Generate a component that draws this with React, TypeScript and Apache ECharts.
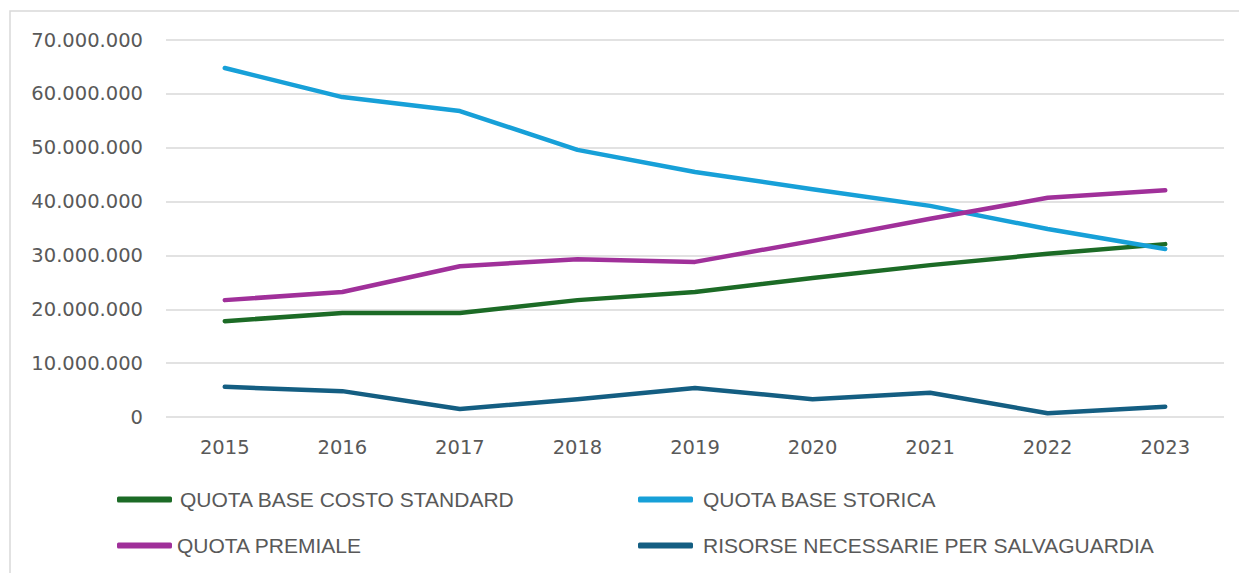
import React, { useEffect, useRef } from "react";
import * as echarts from "echarts";

const years = ["2015", "2016", "2017", "2018", "2019", "2020", "2021", "2022", "2023"];
const quotaBaseCostoStandard = [17.8, 19.3, 19.3, 21.7, 23.2, 25.8, 28.2, 30.3, 32.1].map((v) => v * 1e6);
const quotaBaseStorica = [64.8, 59.4, 56.8, 49.6, 45.5, 42.3, 39.2, 34.9, 31.2].map((v) => v * 1e6);
const quotaPremiale = [21.7, 23.2, 28.0, 29.3, 28.8, 32.7, 36.8, 40.7, 42.1].map((v) => v * 1e6);
const risorseSalvaguardia = [5.6, 4.8, 1.5, 3.3, 5.4, 3.3, 4.5, 0.7, 1.9].map((v) => v * 1e6);

const seriesNames = [
  "QUOTA BASE COSTO STANDARD",
  "QUOTA BASE STORICA",
  "QUOTA PREMIALE",
  "RISORSE NECESSARIE PER SALVAGUARDIA",
];
const colors = ["#1C6B26", "#17A0D8", "#A0309A", "#145E82"];

const fmt = (v: number) => String(Math.round(v)).replace(/\B(?=(\d{3})+(?!\d))/g, ".");

export default function App() {
  const ref = useRef<HTMLDivElement>(null);
  useEffect(() => {
    if (!ref.current) return;
    const chart = echarts.init(ref.current, undefined, { renderer: "svg" });
    const datas = [quotaBaseCostoStandard, quotaBaseStorica, quotaPremiale, risorseSalvaguardia];
    const legendPos = [
      { left: 117, top: 489 },
      { left: 638, top: 489 },
      { left: 117, top: 535 },
      { left: 638, top: 535 },
    ];
    const textPad = [[0, 0, 0, 3], [0, 0, 0, 5], [0, 0, 0, 0], [0, 0, 0, 5]];
    chart.setOption({
      animation: false,
      backgroundColor: "#ffffff",
      color: colors,
      graphic: [
        {
          type: "rect",
          shape: { x: 10, y: 11, width: 1240, height: 580 },
          style: { fill: "none", stroke: "#d9d9d9", lineWidth: 1.5 },
          silent: true,
        },
      ],
      legend: seriesNames.map((n, i) => ({
        data: [n],
        left: legendPos[i].left,
        top: legendPos[i].top,
        padding: 0,
        icon: "roundRect",
        itemWidth: 55,
        itemHeight: 6,
        itemGap: 0,
        selectedMode: false,
        textStyle: {
          fontFamily: "'Liberation Sans', Arial, sans-serif",
          fontSize: 21,
          color: "#595959",
          padding: textPad[i],
        },
      })),
      grid: { left: 166, right: 15, top: 40, bottom: 156, containLabel: false },
      xAxis: {
        type: "category",
        data: years,
        boundaryGap: true,
        axisLine: { show: false },
        axisTick: { show: false },
        axisLabel: {
          fontFamily: "'DejaVu Sans', sans-serif",
          fontSize: 19.5,
          color: "#595959",
          margin: 20,
        },
      },
      yAxis: {
        type: "value",
        min: 0,
        max: 70000000,
        interval: 10000000,
        axisLine: { show: false },
        axisTick: { show: false },
        splitLine: { lineStyle: { color: "#d9d9d9", width: 1.5 } },
        axisLabel: {
          fontFamily: "'DejaVu Sans', sans-serif",
          fontSize: 19.5,
          color: "#595959",
          margin: 23,
          formatter: (v: number) => fmt(v),
        },
      },
      series: seriesNames.map((n, i) => ({
        name: n,
        type: "line",
        data: datas[i],
        symbol: "none",
        lineStyle: { width: 4.5, color: colors[i], cap: "round", join: "round" },
        itemStyle: { color: colors[i] },
      })),
    });
    return () => chart.dispose();
  }, []);
  return (
    <div
      ref={ref}
      style={{ position: "fixed", left: 0, top: 0, width: 1239, height: 573, background: "#fff" }}
    />
  );
}
